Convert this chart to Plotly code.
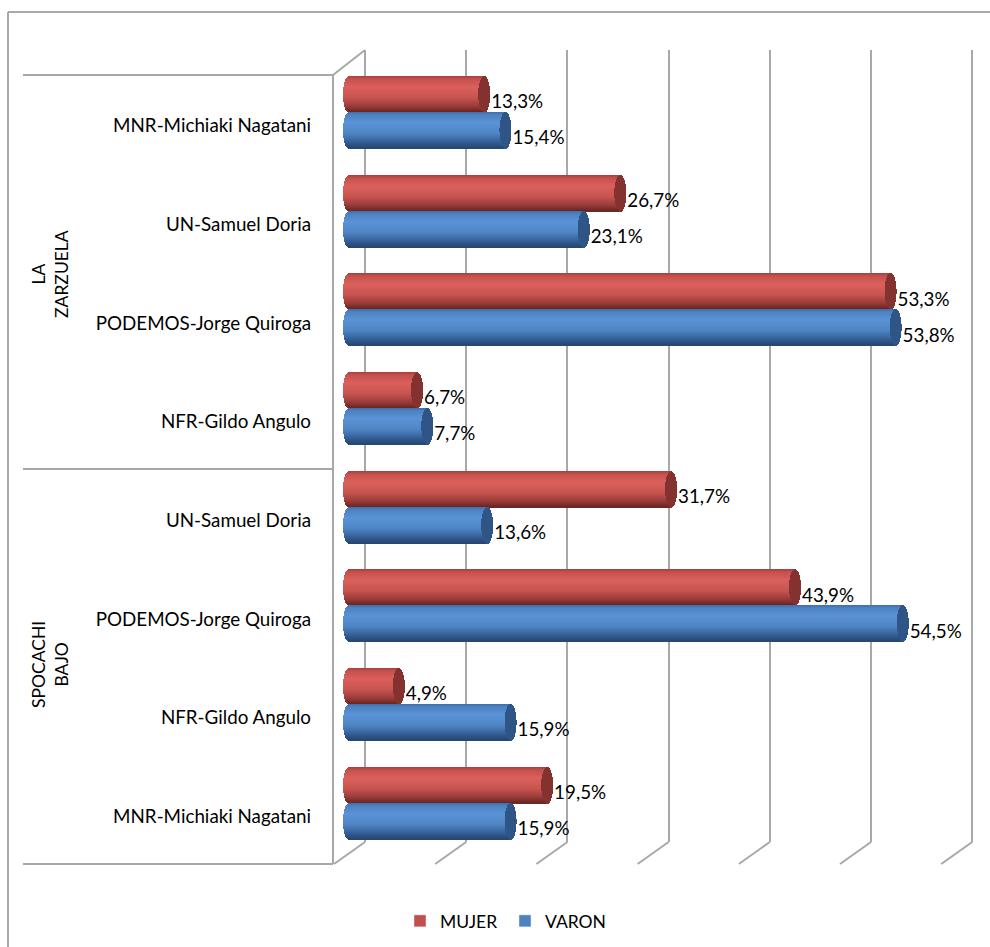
import math
import plotly.graph_objects as go

# ---- data ----
categories = ["MNR-Michiaki Nagatani", "UN-Samuel Doria", "PODEMOS-Jorge Quiroga", "NFR-Gildo Angulo",
              "UN-Samuel Doria", "PODEMOS-Jorge Quiroga", "NFR-Gildo Angulo", "MNR-Michiaki Nagatani"]
mujer = [13.3, 26.7, 53.3, 6.7, 31.7, 43.9, 4.9, 19.5]
varon = [15.4, 23.1, 53.8, 7.7, 13.6, 54.5, 15.9, 15.9]
series_names = ["MUJER", "VARON"]
groups = ["LA<br>ZARZUELA", "SPOCACHI<br>BAJO"]
grid_ticks = [0, 10, 20, 30, 40, 50, 60]

# ---- geometry (px) ----
W, H = 990, 947
DOM_L, DOM_R = 330, 985
X0_BAR, PX_BAR = 349, 10.16
X0_GRID, PX_GRID = 365, 10.12
Y_TOP, Y_BOT = 50, 842
ROW0, ROW_PX = 125.6, 98.7
CAP = 6
BAR_PX = 36
FONT = "Lato"
FS = 18.8
TXT = "#000000"
LINE = "#a8a8a8"


def ramp(stops, t):
    for (a, ca), (b, cb) in zip(stops, stops[1:]):
        if t <= b:
            f = (t - a) / (b - a)
            return "rgb(%d,%d,%d)" % tuple(round(p + (q - p) * f) for p, q in zip(ca, cb))
    return "rgb(%d,%d,%d)" % stops[-1][1]


styles = [
    dict(vals=mujer, shift=-18, legend="#C0504D", cap=(131, 50, 48),
         stops=[(0, (160, 66, 63)), (.08, (196, 80, 76)), (.3, (219, 96, 92)), (.6, (200, 84, 80)),
                (.85, (150, 58, 55)), (1, (104, 36, 34))]),
    dict(vals=varon, shift=18, legend="#4F81BD", cap=(46, 85, 133),
         stops=[(0, (62, 110, 170)), (.08, (78, 130, 195)), (.3, (90, 148, 214)), (.6, (78, 132, 196)),
                (.85, (50, 92, 146)), (1, (38, 70, 112))]),
]

fig = go.Figure()
rows = list(range(len(categories)))
PAIR = -13  # cylinders sit 13 px above the label line

for st in styles:
    for b in range(BAR_PX):
        t = (b + .5) / BAR_PX
        s = math.sqrt(max(0, 1 - (2 * t - 1) ** 2))
        dx = CAP * s / PX_BAR
        ys = [r + (PAIR + st["shift"] + b + .5 - BAR_PX / 2) / ROW_PX for r in rows]
        fig.add_bar(x=[v + 2 * dx for v in st["vals"]], y=ys, base=[-dx] * len(ys), orientation="h",
                    width=1.25 / ROW_PX, marker=dict(color=ramp(st["stops"], t), line_width=0),
                    showlegend=False, hoverinfo="skip")
        fig.add_bar(x=[2 * dx] * len(ys), y=ys, base=[v - dx for v in st["vals"]], orientation="h",
                    width=1.25 / ROW_PX, marker=dict(color="rgb(%d,%d,%d)" % st["cap"], line_width=0),
                    showlegend=False, hoverinfo="skip")

# value labels
for st in styles:
    fig.add_scatter(x=[v + 7 / PX_BAR for v in st["vals"]],
                    y=[r + (PAIR + st["shift"] + 9) / ROW_PX for r in rows],
                    mode="text", text=[f"{v:.1f}%".replace(".", ",") for v in st["vals"]],
                    textposition="middle right", textfont=dict(family=FONT, size=FS, color=TXT),
                    cliponaxis=False, showlegend=False, hoverinfo="skip")

# legend entries
for name, st in zip(series_names, styles):
    fig.add_bar(x=[None], y=[None], name=name, orientation="h", marker_color=st["legend"])

# carrier of the gridline axis
fig.add_scatter(x=grid_ticks, y=[None] * len(grid_ticks), xaxis="x2", mode="lines",
                showlegend=False, hoverinfo="skip")


def hline(x0, y0, x1, y1, w=2):
    return dict(type="line", xref="paper", yref="paper", x0=x0 / W, x1=x1 / W,
                y0=1 - y0 / H, y1=1 - y1 / H, line=dict(color=LINE, width=w), layer="below")


shapes = [
    hline(8, 12, 990, 12), hline(8, 12, 8, 947),
    hline(23, 75, 333, 75), hline(23, 469, 333, 469), hline(23, 864, 333, 864),
    hline(333, 75, 333, 864), hline(333, 75, 365, 50),
]
for g in grid_ticks:
    xg = X0_GRID + g * PX_GRID
    shapes.append(hline(xg, 842, xg - 31, 864))

annotations = [
    dict(text=groups[0], xref="paper", yref="paper", x=50 / W, y=1 - 274 / H, xanchor="center", yanchor="middle",
         showarrow=False, textangle=-90, font=dict(family=FONT, size=17.5, color=TXT), align="center"),
    dict(text=groups[1], xref="paper", yref="paper", x=50 / W, y=1 - 665 / H, xanchor="center", yanchor="middle",
         showarrow=False, textangle=-90, font=dict(family=FONT, size=17.5, color=TXT), align="center"),
]

fig.update_layout(
    width=W, height=H, margin=dict(l=0, r=0, t=0, b=0), autosize=False,
    paper_bgcolor="white", plot_bgcolor="rgba(0,0,0,0)", barmode="overlay", bargap=0,
    font=dict(family=FONT, size=FS, color=TXT),
    xaxis=dict(domain=[DOM_L / W, DOM_R / W], range=[(DOM_L - X0_BAR) / PX_BAR, (DOM_R - X0_BAR) / PX_BAR],
               showgrid=False, zeroline=False, showticklabels=False, ticks="", showline=False),
    xaxis2=dict(overlaying="x", anchor="y", range=[(DOM_L - X0_GRID) / PX_GRID, (DOM_R - X0_GRID) / PX_GRID],
                tickvals=grid_ticks, showgrid=True, gridcolor=LINE, gridwidth=2, zeroline=False,
                showticklabels=False, ticks="", showline=False),
    yaxis=dict(domain=[1 - Y_BOT / H, 1 - Y_TOP / H],
               range=[(Y_BOT - ROW0) / ROW_PX, (Y_TOP - ROW0) / ROW_PX],
               tickmode="array", tickvals=rows, ticktext=categories, ticks="", showgrid=False, zeroline=False,
               showline=False, ticklabelstandoff=18, tickfont=dict(family=FONT, size=FS, color=TXT)),
    legend=dict(orientation="h", x=400 / W, xanchor="left", y=1 - 921 / H, yanchor="middle",
                entrywidth=60, entrywidthmode="pixels",
                font=dict(family=FONT, size=17.5, color=TXT), bgcolor="rgba(0,0,0,0)", traceorder="normal"),
    shapes=shapes, annotations=annotations,
)

fig.write_html("out.html", config={"displayModeBar": False},
               post_script="document.body.style.margin='0';document.body.style.overflow='hidden';")
